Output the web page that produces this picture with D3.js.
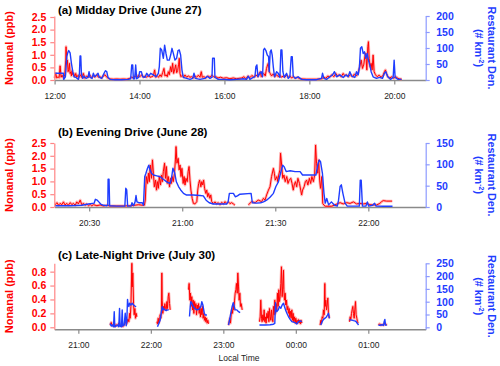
<!DOCTYPE html>
<html>
<head>
<meta charset="utf-8">
<script src="https://cdn.jsdelivr.net/npm/d3@7"></script>
<style>
  body { margin: 0; background: #fff; }
  svg { display: block; }
</style>
</head>
<body>
<script>
// times are minutes after midnight (values past 1440 are after midnight)
// null values break the line between drive segments

var middayNonanal = [
  [720.2,0.07],[721.6,0.26],[723.1,0.08],[724.9,0.13],[726.4,0.09],[727.8,0.56],[729.2,0.11],[730.6,0.19],
  [732.5,0.08],[734.4,0.2],[735.8,0.79],[736.2,1.32],[737.2,0.66],[738.1,0.79],[739.1,0.33],[740,0.42],
  [741,0.66],[741.9,0.26],[742.8,0.32],[743.8,0.16],[744.7,0.37],[745.7,0.21],[747.1,0.26],[748.5,0.13],
  [749.9,0.26],[751.3,0.11],[753.2,0.19],[755.1,0.11],[756.9,0.21],[758.8,0.09],[760.7,0.26],[762.6,0.07],
  [765.4,0.16],[767.8,0.11],[770.1,0.19],[772.5,0.09],[774.8,0.16],[777.2,0.11],[779.5,0.21],[781.9,0.11],
  [784.2,0.13],[786.6,0.08],[789,0.16],[791.3,0.21],[793.7,0.11],[796,0.07],[799.3,0.04],[803.1,0.03],
  [807.8,0.04],[812.5,0.03],[817.2,0.04],[821.9,0.03],[826.6,0.07],[828.9,0.11],[831.3,0.08],[833.7,0.16],
  [836,0.11],[838.4,0.19],[840.7,0.13],[843.1,0.21],[845.4,0.11],[847.8,0.16],[850.1,0.11],[852.5,0.19],
  [854.8,0.11],[857.2,0.13],[859.5,0.16],[861.4,0.4],[862.8,0.11],[865.2,0.16],[867,0.11],[869,0.21],
  [870.8,0.13],[872.7,0.29],[874.6,0.46],[876,0.16],[877.4,0.21],[879.3,0.13],[880.7,0.33],[882.1,0.21],
  [884,0.53],[885.4,0.32],[886.8,0.66],[888.2,0.26],[889.6,0.4],[891.1,0.6],[892.5,0.29],[893.9,0.37],
  [895.3,0.63],[896.2,0.86],[897.2,0.26],[898.6,0.13],[900.5,0.19],[902.4,0.11],[904.2,0.2],[906.6,0.11],
  [909,0.16],[911.3,0.11],[913.7,0.13],[916,0.08],[918.4,0.16],[920.7,0.11],[923.1,0.19],[925.4,0.11],
  [927.3,0.33],[928.7,0.11],[931.1,0.13],[933.9,0.08],[936.7,0.16],[939.5,0.11],[942.4,0.19],[945.2,0.11],
  [948,0.13],[950.8,0.08],[954.6,0.11],[958.4,0.07],[963.1,0.09],[967.8,0.05],[972.5,0.08],[977.2,0.05],
  [981.9,0.07],[984.7,0.08],[987.5,0.13],[990.4,0.05],[993.2,0.16],[996,0.09],[998.8,0.18],[1001.7,0.11],
  [1004.5,0.2],[1007.3,0.13],[1009.2,0.26],[1010.6,0.33],[1012,0.13],[1013.9,0.21],[1015.8,0.26],[1017.7,0.16],
  [1019.5,0.46],[1021,0.6],[1021.9,0.66],[1023.3,0.33],[1024.7,0.26],[1026.6,0.16],[1028.9,0.24],[1031.3,0.13],
  [1033.7,0.21],[1036,0.13],[1038.4,0.19],[1040.7,0.11],[1043.1,0.16],[1045.4,0.11],[1047.8,0.19],[1050.1,0.11],
  [1052.5,0.16],[1054.8,0.08],[1057.2,0.13],[1060,0.07],[1062.8,0.11],[1066.6,0.05],[1071.3,0.04],[1076,0.03],
  [1083.1,0.03],[1090.1,0.03],[1097.2,0.05],[1100.5,0.11],[1103.3,0.07],[1106.1,0.16],[1109,0.11],[1111.8,0.21],
  [1114.6,0.13],[1117.4,0.26],[1119.8,0.16],[1122.1,0.21],[1125,0.13],[1127.8,0.26],[1130.1,0.16],[1132.5,0.21],
  [1135.3,0.13],[1138.1,0.21],[1141,0.13],[1143.8,0.24],[1146.6,0.16],[1149,0.29],[1151.3,0.53],[1153.2,0.79],
  [1155.1,0.46],[1157,0.63],[1158.4,0.93],[1159.8,1.06],[1161.2,0.4],[1162.6,1.32],[1163.5,1.52],[1164.5,0.86],
  [1165.9,0.53],[1167.3,0.66],[1168.7,0.4],[1170.1,0.99],[1171.5,0.33],[1173.4,0.21],[1175.8,0.13],[1178.6,0.19],
  [1181.4,0.11],[1184.2,0.19],[1186.1,0.33],[1187.5,0.4],[1189,0.26],[1190.8,0.13],[1193.7,0.08],[1196.5,0.13],
  [1199.3,0.07],[1202.1,0.13],[1205,0.07],[1207.8,0.04],[1210.6,0.03]
];

var middayRestaurant = [
  [720.2,21],[732.5,21],[733,2],[735.3,10],[737.2,73],[738.6,85],[740,92],[741.9,85],[743.8,52],[745.7,26],
  [747.5,10],[750.4,8],[753.7,2],[755.1,21],[756,75],[757,75],[757.9,21],[759.8,5],[761.7,12],[764.5,5],
  [767.3,8],[768.7,26],[770.1,8],[773,5],[774.8,21],[776.7,10],[779.5,16],[781.4,21],[783.3,8],[786.6,5],
  [789.9,21],[791.8,29],[793.7,26],[795.5,8],[798.4,2],[805.4,1],[814.8,1],[824.2,2],[827.5,4],[829,47],
  [830.4,47],[831.3,4],[833.2,4],[834.6,47],[836,4],[838.8,8],[840.2,26],[842.6,26],[844.5,10],[847.8,8],
  [850.1,21],[853,12],[855.8,21],[859.5,16],[863.3,10],[866.6,21],[868,42],[869.4,99],[871.3,94],[873.7,68],
  [875.5,109],[877.4,83],[879.3,62],[882.1,62],[884,78],[885.9,99],[887.8,83],[890.1,62],[892.5,68],[894.4,92],
  [896.2,94],[898.1,78],[900,31],[901.9,8],[906.6,5],[911.3,2],[915.1,5],[917,21],[918.8,5],[925.4,2],
  [932.5,5],[935.8,12],[939.5,5],[942.4,8],[943.3,68],[945.7,68],[946.6,8],[951.3,2],[958.4,2],[967.8,1],
  [977.2,2],[984.2,3],[986.6,4],[991.3,2],[993.7,12],[996,2],[1000.7,8],[1003.1,10],[1004.5,42],[1005.9,47],
  [1007.3,10],[1010.1,21],[1012,26],[1013.9,10],[1015.3,94],[1016.7,99],[1018.6,92],[1020.5,78],[1022.4,73],[1023.3,26],
  [1024.7,88],[1026.1,94],[1027.5,78],[1029,42],[1030.8,10],[1033.7,26],[1036,21],[1038.4,8],[1039.8,94],[1041.2,94],
  [1042.6,26],[1044.5,8],[1047.8,21],[1050.1,5],[1052.5,10],[1054.4,73],[1055.8,73],[1057.2,12],[1060,5],[1064.2,10],
  [1069,2],[1076,1],[1083.1,1],[1090.1,1],[1097.2,5],[1098.6,21],[1100.5,5],[1104.3,2],[1109,10],[1112.7,16],
  [1115.5,26],[1118.4,10],[1123.1,16],[1127.8,8],[1131.5,16],[1134.8,10],[1137.2,26],[1140,12],[1144.2,8],[1146.6,26],
  [1149,16],[1150.8,42],[1152.2,99],[1154.1,104],[1156,83],[1157.9,88],[1159.8,68],[1161.7,83],[1163.5,62],[1165.4,47],
  [1167.3,26],[1170.1,10],[1174.8,5],[1179.5,8],[1183.3,5],[1186.1,21],[1188,26],[1190.8,10],[1194.6,2],[1198.4,8],
  [1199.8,62],[1201.2,8],[1205.4,2],[1210.1,2]
];

var eveningNonanal = [
  [1219,0.08],[1219.6,0.17],[1220.1,0.07],[1220.6,0.14],[1221.2,0.09],[1221.7,0.2],[1222.2,0.08],[1222.8,0.14],
  [1223.3,0.07],[1223.9,0.17],[1224.4,0.09],[1224.9,0.14],[1225.5,0.07],[1226,0.2],[1226.5,0.12],[1227.1,0.27],
  [1227.6,0.09],[1228.2,0.14],[1228.7,0.07],[1229.2,0.12],[1229.8,0.05],[1230.3,0.1],[1230.8,0.05],[1231.4,0.09],
  [1232.5,0.05],[1233.5,0.08],[1234.6,0.04],[1235.7,0.07],[1236.7,0.04],[1238.9,0.04],[1241,0.04],[1243.2,0.05],
  [1244.8,0.07],[1245.9,0.09],[1247,0.07],[1247.8,0.07],[1248.1,0.27],[1248.4,1.19],[1248.8,0.92],[1249.1,1.32],
  [1249.4,0.99],[1249.7,1.64],[1250.1,1.12],[1250.4,1.84],[1250.7,1.32],[1251,0.79],[1251.4,1.05],[1251.7,0.66],
  [1252,0.99],[1252.3,0.73],[1252.6,1.19],[1253,0.86],[1253.3,1.25],[1253.6,0.99],[1253.9,1.38],[1254.3,1.71],
  [1254.6,1.12],[1254.9,1.58],[1255.2,0.92],[1255.5,1.19],[1255.9,0.79],[1256.2,1.12],[1256.5,0.92],[1256.8,1.19],
  [1257.1,0.99],[1257.5,1.32],[1257.8,1.84],[1258,2.36],[1258.3,1.71],[1258.7,1.9],[1259,1.45],[1259.3,1.64],
  [1259.6,1.19],[1259.9,1.51],[1260.3,0.92],[1260.6,1.19],[1260.9,0.86],[1261.2,1.12],[1261.6,0.99],[1261.9,1.38],
  [1262.2,1.58],[1262.5,1.05],[1262.8,0.66],[1263.2,0.34],[1263.6,0.14],[1264.1,0.12],[1264.7,0.21],[1265,0.66],
  [1265.3,0.92],[1265.6,1.05],[1266,0.79],[1266.3,0.99],[1266.6,0.86],[1266.9,1.05],[1267.2,0.73],[1267.6,0.53],
  [1267.9,0.66],[1268.2,0.4],[1268.5,0.53],[1268.9,0.34],[1269.2,0.47],[1269.5,0.21],[1270,0.14],[1270.6,0.2],
  [1271.1,0.12],[1271.6,0.17],[1272.2,0.09],[1272.7,0.18],[1273.3,0.12],[1273.8,0.21],[1274.3,0.14],[1274.9,0.2],
  [1275.4,0.13],[1275.9,0.17],[1276.5,0.12],[1277,0.07],[1279,null],
  [1281.3,0.08],[1282.4,0.21],[1283.5,0.17],[1284.5,0.27],[1285.6,0.21],[1286.2,0.34],[1286.7,0.27],[1287.2,0.47],
  [1287.8,0.66],[1288.3,0.79],[1288.8,1.19],[1289.4,1.51],[1289.7,1.32],[1290,1.05],[1290.5,1.19],[1290.8,0.99],
  [1291.1,1.25],[1291.5,1.45],[1291.7,2.1],[1292.1,1.58],[1292.4,1.12],[1292.8,1.25],[1293.2,0.99],[1293.7,1.19],
  [1294.1,0.92],[1294.5,1.05],[1295,1.12],[1295.4,0.92],[1295.8,0.66],[1296.1,0.86],[1296.5,0.99],[1296.9,0.79],
  [1297.3,1.12],[1297.8,0.92],[1298.2,0.66],[1298.5,0.47],[1298.8,0.66],[1299.3,0.79],[1299.7,0.99],[1300.1,1.05],
  [1300.5,0.86],[1301,1.12],[1301.4,0.92],[1301.8,1.19],[1302.3,0.99],[1302.7,1.25],[1303,2.42],[1303.3,1.71],
  [1303.7,1.32],[1304,1.84],[1304.3,1.05],[1304.6,0.73],[1305,1.19],[1305.3,0.14],[1305.7,0.07],[1306.1,0.03],
  [1308.2,0.03],[1310.3,0.14],[1310.9,0.17],[1311.9,0.12],[1313,0.17],[1314.1,0.14],[1315.2,0.2],[1316.2,0.12],
  [1317.3,0.14],[1318.4,0.12],[1319.5,0.14],[1320.5,0.09],[1321.6,0.08],[1322.7,0.08],[1323.7,0.14],[1324.3,0.21],
  [1324.8,0.25],[1325.9,0.23],[1327.7,0.23]
];

var eveningRestaurant = [
  [1219,3],[1223.9,3],[1227.6,4],[1229.8,7],[1231.6,9],[1232,18],[1232.6,16],[1233.1,12],[1233.7,7],[1234.6,4],
  [1235.7,3],[1236,4],[1236.1,65],[1236.4,65],[1236.6,3],[1238.9,2],[1241.5,2],[1241.8,44],[1242.1,40],[1242.4,2],
  [1243.5,2],[1243.8,10],[1244.3,3],[1244.8,12],[1245.1,27],[1245.4,12],[1246,10],[1247.1,10],[1247.5,4],[1247.9,71],
  [1248.3,79],[1248.8,91],[1249.2,98],[1249.6,87],[1250.1,79],[1250.7,75],[1251.8,73],[1252.9,71],[1253.9,65],[1255,59],
  [1256.1,55],[1256.5,65],[1257,91],[1257.6,79],[1258.1,59],[1258.8,48],[1259.5,40],[1260.4,32],[1261.4,28],[1263.6,28],
  [1265.7,27],[1266.8,26],[1267.7,16],[1268.7,10],[1270,7],[1274.3,7],[1274.8,12],[1275.2,32],[1276.5,32],[1277.1,24],
  [1277.8,26],[1278.6,30],[1282.2,32],[1282.6,10],[1284,9],[1285.3,10],[1286.2,12],[1287.2,16],[1288.3,23],[1289.4,32],
  [1290.2,48],[1291,59],[1291.7,79],[1292.4,98],[1292.9,94],[1293.5,83],[1294.8,85],[1296.4,83],[1298,83],[1298.8,75],
  [1300.1,75],[1301.7,75],[1303.1,75],[1303.8,102],[1304.2,110],[1304.6,106],[1305.2,79],[1305.7,32],[1306.1,9],[1306.6,20],
  [1307.2,5],[1308.1,12],[1309.1,4],[1310,2],[1310.4,16],[1310.9,48],[1311.3,52],[1311.8,32],[1312.5,9],[1313.2,2],
  [1317.1,2],[1317.4,63],[1317.7,63],[1318.1,2],[1319.2,2],[1319.7,12],[1320.1,2],[1321.4,4],[1322,9],[1322.5,2],
  [1324.8,1.6],[1327.8,1.6]
];

var lateNonanal = [
  [1286.3,0.03],[1287.2,0.07],[1288,0.02],[1289.1,0.05],[1290.2,0.01],[1291.3,0.04],[1292.4,0.02],[1293.5,0.06],
  [1294.6,0.02],[1295.7,0.04],[1296.8,0.01],[1297.9,0.03],[1299,0.07],[1300.1,0.05],[1301,0.12],[1301.8,0.08],
  [1302.4,0.2],[1302.9,0.13],[1303.5,0.3],[1304,0.68],[1304.3,0.92],[1304.6,0.58],[1305.1,0.78],[1305.7,0.34],
  [1306.2,0.18],[1306.8,0.27],[1307.3,0.13],[1307.9,0.2],[1308.4,0.15],[1315,null],
  [1325,0.08],[1325.5,0.05],[1326.1,0.13],[1326.6,0.06],[1327.2,0.1],[1327.7,0.18],[1328.3,0.13],[1328.8,0.25],
  [1329.1,0.78],[1329.4,0.39],[1329.9,0.2],[1330.5,0.3],[1331,0.25],[1331.6,0.34],[1332.1,0.27],[1332.7,0.25],
  [1333.3,0.37],[1333.8,0.27],[1334.4,0.44],[1334.9,0.49],[1335.5,0.34],[1336,0.25],[1344,null],
  [1351.2,0.54],[1351.7,0.63],[1352.3,0.39],[1352.8,0.49],[1353.4,0.3],[1353.9,0.44],[1354.5,0.25],[1355.1,0.39],
  [1355.6,0.2],[1356.2,0.37],[1356.7,0.27],[1357.3,0.34],[1357.8,0.18],[1358.4,0.32],[1358.9,0.25],[1359.5,0.34],
  [1360,0.2],[1360.6,0.3],[1361.1,0.15],[1361.7,0.27],[1362.2,0.18],[1362.8,0.3],[1363.3,0.13],[1363.9,0.2],
  [1364.4,0.1],[1365,0.15],[1365.5,0.08],[1366.1,0.13],[1366.6,0.06],[1367.2,0.1],[1367.7,0.05],[1375,null],
  [1384.3,0.03],[1384.8,0.08],[1385.4,0.13],[1385.9,0.06],[1386.5,0.18],[1387.1,0.25],[1387.6,0.2],[1388.2,0.32],
  [1388.7,0.25],[1389.3,0.39],[1389.8,0.49],[1390.4,0.54],[1390.9,0.63],[1391.5,0.49],[1392,0.78],[1392.6,0.58],
  [1393.1,0.39],[1393.7,0.49],[1394.2,0.3],[1394.8,0.34],[1395.6,0.25],[1402,null],
  [1409.9,0.08],[1410.5,0.15],[1411,0.39],[1411.6,0.13],[1412.1,0.08],[1412.7,0.18],[1413.2,0.1],[1413.8,0.25],
  [1414.3,0.08],[1414.9,0.15],[1415.4,0.06],[1416,0.2],[1416.6,0.13],[1417.1,0.23],[1417.7,0.08],[1418.2,0.27],
  [1418.8,0.15],[1419.3,0.1],[1419.9,0.25],[1420.4,0.13],[1421,0.08],[1421.5,0.3],[1422.1,0.18],[1422.6,0.39],
  [1423.2,0.2],[1423.7,0.34],[1424.3,0.25],[1424.8,0.49],[1425.4,0.3],[1425.9,0.54],[1426.5,0.37],[1427,0.44],
  [1427.6,0.63],[1428.1,0.87],[1428.4,0.68],[1428.7,0.44],[1429.2,0.58],[1429.8,0.82],[1430.1,0.54],[1430.6,0.39],
  [1431.2,0.49],[1431.7,0.32],[1432.3,0.39],[1432.8,0.25],[1433.4,0.3],[1433.9,0.2],[1434.5,0.27],[1435,0.15],
  [1435.6,0.23],[1436.1,0.13],[1436.7,0.25],[1437.2,0.1],[1437.8,0.2],[1438.3,0.08],[1438.9,0.15],[1439.5,0.06],
  [1440,0.13],[1440.6,0.06],[1441.1,0.1],[1441.7,0.08],[1442.2,0.11],[1442.8,0.06],[1443.3,0.1],[1443.9,0.05],
  [1444.4,0.1],[1445,0.06],[1452,null],
  [1460.1,0.03],[1460.7,0.1],[1461.2,0.06],[1461.8,0.15],[1462.4,0.13],[1462.9,0.25],[1463.5,0.18],[1464,0.63],
  [1464.3,0.3],[1464.8,0.39],[1465.4,0.25],[1465.9,0.32],[1466.5,0.42],[1467,0.2],[1467.6,0.13],[1475,null],
  [1484.4,0.08],[1485,0.15],[1485.5,0.11],[1486.1,0.2],[1486.6,0.25],[1487.2,0.3],[1487.7,0.2],[1488.3,0.13],
  [1488.8,0.25],[1489.4,0.37],[1489.9,0.18],[1490.5,0.13],[1491,0.08],[1491.6,0.06],[1500,null],
  [1508.4,0.03],[1509.3,0.05],[1510.4,0.03],[1511.5,0.04],[1512.6,0.03],[1513.7,0.06],[1514.8,0.04],[1515.3,0.03]
];

var lateRestaurant = [
  [1286.3,15],[1287.2,5],[1288,9],[1289.1,2],[1289.7,61],[1290.2,2],[1291.3,5],[1292.4,9],[1293.5,2],[1294.1,74],
  [1294.6,5],[1295.7,2],[1296.3,68],[1296.8,5],[1297.9,9],[1298.8,55],[1299.6,6],[1300.1,22],[1300.7,109],[1301.2,87],
  [1301.8,81],[1302.4,94],[1303.5,87],[1304.6,94],[1305.7,87],[1306.8,83],[1307.9,81],[1315,null],
  [1325.5,2],[1326.6,15],[1327.7,28],[1328.6,55],[1329.4,81],[1329.9,68],[1330.5,74],[1331.6,68],[1332.7,65],[1333.8,68],
  [1334.9,68],[1344,null],
  [1352,42],[1352.6,81],[1353.1,100],[1353.9,94],[1355.1,81],[1356.4,74],[1358.1,68],[1359.7,70],[1361.4,81],[1362.2,100],
  [1363.1,87],[1364.2,55],[1365,48],[1366.4,48],[1375,null],
  [1384.3,9],[1385.1,28],[1386.2,55],[1387.3,81],[1388.2,96],[1389,81],[1389.8,68],[1391.2,68],[1392.6,61],[1393.9,57],
  [1402,null],
  [1409.9,9],[1414.6,9],[1418.8,10],[1421.5,12],[1422.6,15],[1423.2,96],[1423.7,68],[1424.3,61],[1425.4,68],[1426.5,81],
  [1427.6,74],[1428.7,87],[1429.8,94],[1430.6,81],[1431.5,68],[1432.6,55],[1433.9,42],[1435.3,31],[1436.7,22],[1439.5,18],
  [1440.8,13],[1442.2,22],[1443.6,25],[1445,22],[1452,null],
  [1460.7,9],[1461.8,22],[1462.9,31],[1464,35],[1465.1,39],[1466.2,48],[1467,55],[1467.9,35],[1475,null],
  [1484.4,31],[1485.5,28],[1486.6,28],[1487.7,26],[1488.8,25],[1489.9,22],[1491,15],[1491.9,9],[1500,null],
  [1508.4,8],[1509.8,8],[1511.2,10],[1512.6,8],[1513.1,22],[1513.7,31],[1514.2,9],[1515.3,8]
];

var middayTimeTicks = [720, 840, 960, 1080, 1200];
var eveningTimeTicks = [1230, 1260, 1290, 1320];
var lateTimeTicks = [1260, 1320, 1380, 1440, 1500];
var nonanalTicksAB = [0, 0.5, 1, 1.5, 2, 2.5];
var nonanalTicksC = [0, 0.2, 0.4, 0.6, 0.8];
var densTicksA = [0, 50, 100, 150, 200];
var densTicksB = [0, 50, 100, 150];
var densTicksC = [0, 50, 100, 150, 200, 250];

var width = 500, height = 366;
var FONT = "'Liberation Sans', Arial, Helvetica, sans-serif";
var RED = "#ff0000", BLUE = "#1f3dff";
var left = 54.3, right = 425.7;

var svg = d3.select("body").append("svg")
    .attr("width", width)
    .attr("height", height)
    .style("font-family", FONT);

function hhmm(m) {
  m = ((Math.round(m) % 1440) + 1440) % 1440;
  return String(Math.floor(m / 60)).padStart(2, "0") + ":" + String(m % 60).padStart(2, "0");
}

var panels = [
  { title: "(a) Midday Drive (June 27)", titleY: 13.5, top: 16, bottom: 80,
    xDomain: [719.6, 1244.4], xTicks: middayTimeTicks,
    lDomain: [0, 2.54], lTicks: nonanalTicksAB, lFmt: d3.format(".1f"),
    rDomain: [0, 200], rTicks: densTicksA,
    red: middayNonanal, blue: middayRestaurant },
  { title: "(b) Evening Drive (June 28)", titleY: 135.5, top: 143, bottom: 207,
    xDomain: [1218.75, 1338.5], xTicks: eveningTimeTicks,
    lDomain: [0, 2.5], lTicks: nonanalTicksAB, lFmt: d3.format(".1f"),
    rDomain: [0, 150], rTicks: densTicksB,
    red: eveningNonanal, blue: eveningRestaurant },
  { title: "(c) Late-Night Drive (July 30)", titleY: 259, top: 263.3, bottom: 329.3,
    xDomain: [1240.1, 1547.5], xTicks: lateTimeTicks,
    lDomain: [-0.029, 0.92], lTicks: nonanalTicksC, lFmt: d3.format(".1f"),
    rDomain: [-7.8, 250], rTicks: densTicksC,
    red: lateNonanal, blue: lateRestaurant }
];

panels.forEach(function(p) {
  var x = d3.scaleLinear().domain(p.xDomain).range([left, right]);
  var yL = d3.scaleLinear().domain(p.lDomain).range([p.bottom, p.top]);
  var yR = d3.scaleLinear().domain(p.rDomain).range([p.bottom, p.top]);

  var g = svg.append("g");

  // title
  g.append("text")
      .attr("x", 58)
      .attr("y", p.titleY)
      .attr("font-size", 11.6)
      .attr("font-weight", "bold")
      .attr("fill", "#000")
      .text(p.title);

  // x axis
  var xa = g.append("g")
      .attr("transform", "translate(0," + p.bottom + ")")
      .call(d3.axisBottom(x).tickValues(p.xTicks).tickFormat(hhmm).tickSize(4.5).tickPadding(8.5).tickSizeOuter(0));
  xa.select(".domain").attr("stroke", "#8a8a8a").attr("stroke-width", 1.6);
  xa.selectAll(".tick line").attr("stroke", "#8a8a8a").attr("stroke-width", 1.2);
  xa.selectAll("text").attr("font-size", 8.5).attr("font-family", FONT).attr("fill", "#222");

  // lines
  var redLine = d3.line()
      .defined(function(d) { return d[1] != null; })
      .x(function(d) { return x(d[0]); })
      .y(function(d) { return yL(d[1]); });
  var blueLine = d3.line()
      .defined(function(d) { return d[1] != null; })
      .x(function(d) { return x(d[0]); })
      .y(function(d) { return yR(d[1]); });

  g.append("path")
      .datum(p.red)
      .attr("d", redLine)
      .attr("fill", "none")
      .attr("stroke", "#ff7777")
      .attr("stroke-opacity", 0.55)
      .attr("stroke-width", 2.8)
      .attr("stroke-linejoin", "round");
  g.append("path")
      .datum(p.red)
      .attr("d", redLine)
      .attr("fill", "none")
      .attr("stroke", RED)
      .attr("stroke-width", 1)
      .attr("stroke-linejoin", "round");
  g.append("path")
      .datum(p.blue)
      .attr("d", blueLine)
      .attr("fill", "none")
      .attr("stroke", BLUE)
      .attr("stroke-width", 1.4)
      .attr("stroke-linejoin", "round");

  // left axis
  var la = g.append("g")
      .attr("transform", "translate(" + left + ",0)")
      .call(d3.axisLeft(yL).tickValues(p.lTicks).tickFormat(p.lFmt).tickSize(4).tickPadding(4).tickSizeOuter(0));
  la.select(".domain").attr("stroke", "#ff8585").attr("stroke-width", 1.2);
  la.selectAll(".tick line").attr("stroke", "#ff8585").attr("stroke-width", 1.2);
  la.selectAll("text").attr("font-size", 10.5).attr("font-weight", "bold")
      .attr("font-family", FONT).attr("fill", RED);

  // right axis
  var ra = g.append("g")
      .attr("transform", "translate(" + right + ",0)")
      .call(d3.axisRight(yR).tickValues(p.rTicks).tickSize(4).tickPadding(6.5).tickSizeOuter(0));
  ra.select(".domain").attr("stroke", "#8d9bff").attr("stroke-width", 1.2);
  ra.selectAll(".tick line").attr("stroke", "#8d9bff").attr("stroke-width", 1.2);
  ra.selectAll("text").attr("font-size", 10.5).attr("font-weight", "bold")
      .attr("font-family", FONT).attr("fill", BLUE);

  var cy = (p.top + p.bottom) / 2;

  // left axis title
  g.append("text")
      .attr("transform", "translate(12.5," + cy + ") rotate(-90)")
      .attr("text-anchor", "middle")
      .attr("font-size", 11)
      .attr("font-weight", "bold")
      .attr("fill", RED)
      .text("Nonanal (ppb)");

  // right axis title
  var rt = g.append("text")
      .attr("transform", "translate(487.5," + cy + ") rotate(90)")
      .attr("text-anchor", "middle")
      .attr("font-size", 10.8)
      .attr("font-weight", "bold")
      .attr("fill", BLUE);
  rt.append("tspan").attr("x", 0).attr("y", 0).text("Restaurant Den.");
  var l2 = rt.append("tspan").attr("x", 0).attr("y", 13);
  l2.append("tspan").text("(# km");
  l2.append("tspan").attr("font-size", 7).attr("dy", -4).text("-2");
  l2.append("tspan").attr("dy", 4).text(")");
});

svg.append("text")
    .attr("x", 239)
    .attr("y", 361)
    .attr("text-anchor", "middle")
    .attr("font-size", 8.5)
    .attr("fill", "#222")
    .text("Local Time");
</script>
</body>
</html>
